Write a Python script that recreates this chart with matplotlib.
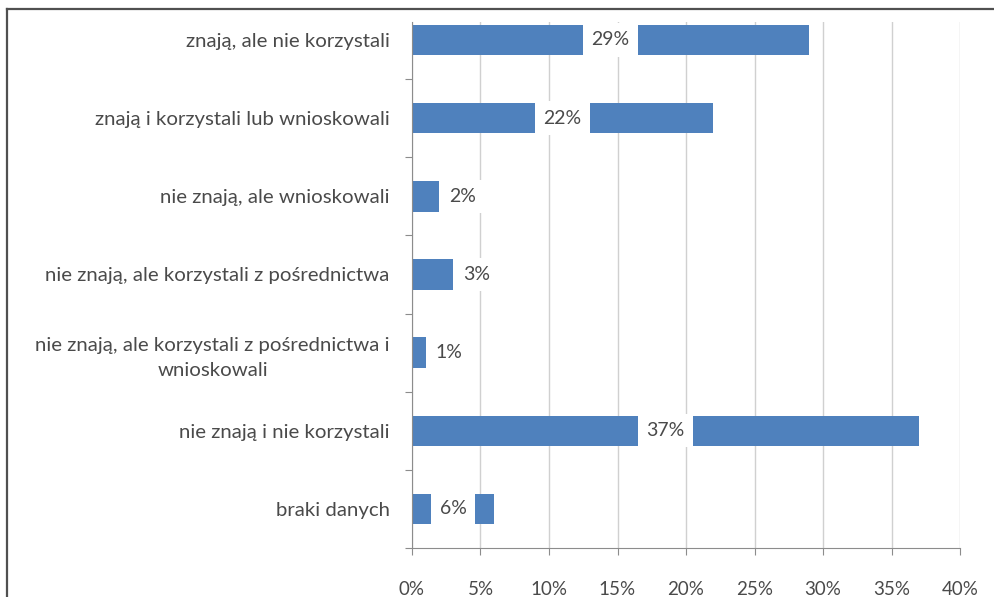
import matplotlib
matplotlib.use("Agg")
import matplotlib.pyplot as plt
from matplotlib.lines import Line2D
from matplotlib.ticker import FixedLocator, PercentFormatter

# kategorie od gory do dolu
kategorie = [
    "znają, ale nie korzystali",
    "znają i korzystali lub wnioskowali",
    "nie znają, ale wnioskowali",
    "nie znają, ale korzystali z pośrednictwa",
    "nie znają, ale korzystali z pośrednictwa i\nwnioskowali",
    "nie znają i nie korzystali",
    "braki danych",
]
wartosci = [29, 22, 2, 3, 1, 37, 6]
os_x = [0, 5, 10, 15, 20, 25, 30, 35, 40]

plt.rcParams['font.family'] = ['Lato', 'DejaVu Sans']
kolor_tekstu = '#4a4a4a'

fig = plt.figure(figsize=(9.95, 5.97), dpi=100)
ax = fig.add_axes([412/995, 1 - 548/597, 548/995, 526/597])

poz = list(range(len(kategorie)))
ax.barh(poz, wartosci, height=0.39, color='#4F81BD', zorder=2)

ax.set_xlim(os_x[0], os_x[-1])
ax.set_ylim(len(kategorie) - 0.5, -0.23)

ax.xaxis.set_major_locator(FixedLocator(os_x))
ax.xaxis.set_major_formatter(PercentFormatter(decimals=0))
ax.tick_params(axis='x', length=5, color='#8C8C8C', pad=19,
               labelsize=13.5, labelcolor=kolor_tekstu)

# kreski na granicach kategorii, opisy w srodku
ax.yaxis.set_major_locator(FixedLocator([p + 0.5 for p in poz]))
ax.yaxis.set_major_formatter(plt.NullFormatter())
ax.yaxis.set_minor_locator(FixedLocator(poz))
ax.set_yticklabels(kategorie, minor=True, multialignment='center', linespacing=1.55)
ax.tick_params(axis='y', which='major', length=5, color='#8C8C8C')
ax.tick_params(axis='y', which='minor', length=0, pad=16,
               labelsize=14.7, labelcolor=kolor_tekstu)

ax.grid(axis='x', color='#D0D0D0', linewidth=1)
ax.set_axisbelow(True)
for s in ['top', 'right']:
    ax.spines[s].set_visible(False)
for s in ['left', 'bottom']:
    ax.spines[s].set_color('#8C8C8C')

ramka = dict(boxstyle='square,pad=0.42', facecolor='white', edgecolor='none')
for p, v in zip(poz, wartosci):
    if v >= 5:
        ax.annotate(f"{v}%", (v / 2, p), ha='center', va='center', fontsize=14,
                    color=kolor_tekstu, bbox=ramka, zorder=3)
    else:
        ax.annotate(f"{v}%", (v, p), xytext=(7, 0), textcoords='offset points',
                    ha='left', va='center', fontsize=14, color=kolor_tekstu,
                    bbox=ramka, zorder=3)

# ramka obrazka
fig.add_artist(Line2D([7/995, 7/995], [0, 1 - 9/597], color='#505050', lw=1.6))
fig.add_artist(Line2D([7/995, 1], [1 - 9/597, 1 - 9/597], color='#505050', lw=1.6))

fig.savefig("out.png", dpi=100)
